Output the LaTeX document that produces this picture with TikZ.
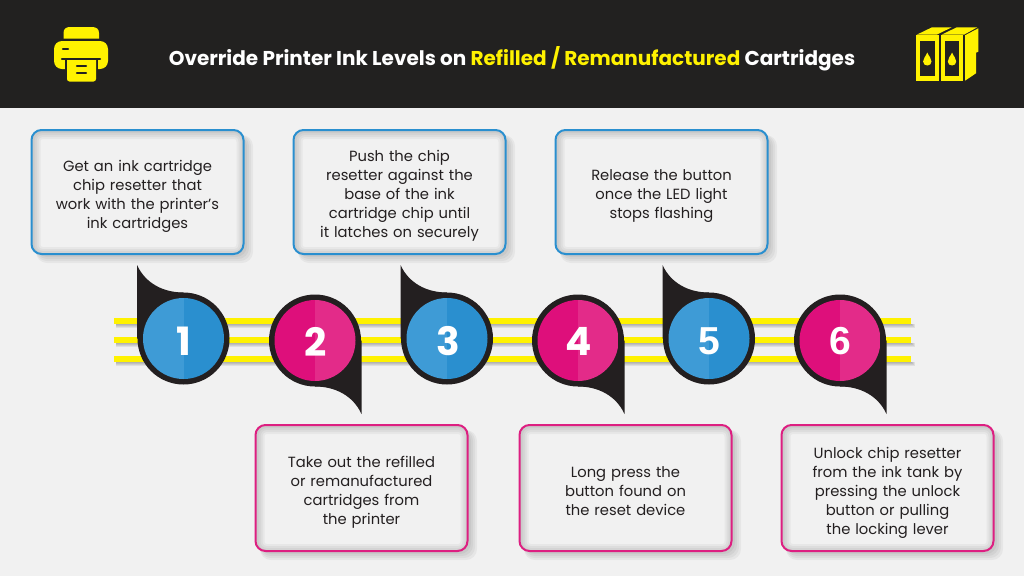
\documentclass[tikz,border=0pt]{standalone}
\usepackage{fontspec}
\setmainfont{Poppins}
\newfontfamily\numalt{Liberation Sans}
\definecolor{ink}{HTML}{231F20}
\definecolor{head}{HTML}{222120}
\definecolor{page}{HTML}{F1F1F1}
\definecolor{ylw}{HTML}{FFF200}
\definecolor{blueB}{HTML}{2A8FCF}
\definecolor{blueL}{HTML}{3E9BD6}
\definecolor{pinkB}{HTML}{DD1F81}
\definecolor{pinkD}{HTML}{DE0F7B}
\definecolor{pinkL}{HTML}{E32B89}
\tikzset{
  x=1pt,y=-1pt,
  boxbase/.style={rounded corners=10pt,line width=2pt,fill=page,minimum width=212pt,minimum height=124pt,
    inner sep=0pt,
    path picture={
      \foreach \w in {16,12,8,4}{
        \draw[black,opacity=0.04,line width=\w pt,rounded corners=10pt]
          ([xshift=1pt,yshift=-1pt]path picture bounding box.north west) rectangle
          ([xshift=1pt,yshift=-1pt]path picture bounding box.south east);
      }
    }},
  bluebox/.style={boxbase,draw=blueB},
  pinkbox/.style={boxbase,draw=pinkB},
  boxtext/.style={align=center,text width=190pt,inner sep=0pt,font=\fontsize{14.75}{19}\selectfont,text=ink},
  stripe/.style={ylw,line width=6pt},
  numtext/.style={text=white,font=\fontsize{39}{39}\bfseries\selectfont,inner sep=0pt},
  ringnode/.style={circle,fill=ink,minimum size=92pt,inner sep=0pt},
}
\newcommand\softshadow[4]{% x0 y0 x1 y1
  \foreach \g in {6,4,2,0}{
    \fill[black,opacity=0.045,rounded corners=11pt] (#1+5,#2+5) rectangle (#3+3+\g,#4+3+\g);
  }
}
\newcommand\stepmark[9]{% name cx cy dir left right num fontcmd numdx
  \node[ringnode] (#1) at (#2,#3) {};
  \ifnum#4=1
    \fill[ink] (#2-46.5,#3-73.5) .. controls (#2-38,#3-55) and (#2-20,#3-46) .. (#2,#3-46)
       -- (#2,#3) -- (#2-46.5,#3) -- cycle;
  \else
    \fill[ink] (#2+46.5,#3+73.5) .. controls (#2+38,#3+55) and (#2+20,#3+46) .. (#2,#3+46)
       -- (#2,#3) -- (#2+46.5,#3) -- cycle;
  \fi
  \begin{scope}
    \clip (#2,#3) circle (40.5);
    \fill[#5] (#2-41,#3-41) rectangle (#2,#3+41);
    \fill[#6] (#2,#3-41) rectangle (#2+41,#3+41);
  \end{scope}
  \node[numtext] (#1num) at (#2+#9,341.5) {#8#7};
}
\newcommand\dropshape[2]{%
  \fill[ylw] (#1,#2-7) .. controls (#1+1.5,#2-3) and (#1+4.2,#2-1.5) .. (#1+4.2,#2+2)
    .. controls (#1+4.2,#2+4.6) and (#1+2.2,#2+6) .. (#1,#2+6)
    .. controls (#1-2.2,#2+6) and (#1-4.2,#2+4.6) .. (#1-4.2,#2+2)
    .. controls (#1-4.2,#2-1.5) and (#1-1.5,#2-3) .. (#1,#2-7) -- cycle;
}
\begin{document}
\begin{tikzpicture}
\useasboundingbox (0,0) rectangle (1024,576);
\fill[page] (0,0) rectangle (1024,576);
\fill[head] (0,0) rectangle (1024,108);
\node[text=white,inner sep=0pt,font=\fontsize{20}{24}\bfseries\selectfont] (title) at (512,59)
  {Override Printer Ink Levels on \textcolor{ylw}{Refilled / Remanufactured} Cartridges};

% printer icon
\fill[ylw] (63.5,38.5) -- (63.5,33) .. controls (63.5,29) and (66,27) .. (70,27) -- (92,27)
   .. controls (96.5,27) and (99,29) .. (99,33) -- (99,38.5) -- cycle;
\fill[ylw,rounded corners=8pt] (54,41) rectangle (108,69);
\draw[head,line width=2.2pt,line cap=round] (63,49.3) -- (68,49.3);
\fill[head] (65,60) rectangle (98,70);
\fill[ylw,rounded corners=2.5pt] (67,54) -- (67,81.5) -- (96,81.5) -- (96,54) -- cycle;
\draw[head,line width=2.2pt,line cap=round] (62,59) -- (100,59);
\draw[head,line width=2.2pt,line cap=round] (77,66) -- (86,66);
\draw[head,line width=2.2pt,line cap=round] (77,72.7) -- (86,72.7);

% cartridge icon
\fill[ylw] (916.7,34.7) -- (932,27.3) -- (951.7,27.3) -- (936.7,34.7) -- cycle;
\fill[ylw] (941.7,34.7) -- (956.7,27.3) -- (977.3,27.3) -- (964,34.7) -- cycle;
\fill[ylw] (965,35.3) -- (978.3,28.3) -- (978.3,51.7) -- (976,52.7) -- (976,73.3) -- (965,80.7) -- cycle;
\fill[ylw] (916,35.3) rectangle (938.7,80.7);
\fill[ylw] (940.7,35.3) rectangle (963.3,80.7);
\fill[head] (920,40.7) rectangle (935,76);
\fill[head] (945,40.7) rectangle (959.3,76);
\dropshape{927.3}{59.5}
\dropshape{952}{59.5}

% stripes
\foreach \yy in {321,340,359}{
  \foreach \g in {3.5,2.5,1.5,0.5}{
    \fill[black,opacity=0.07] (116,\yy+3) rectangle (911+\g,\yy+3+\g);
  }
  \draw[stripe] (114,\yy) -- (911,\yy);
}

% boxes
\softshadow{31}{130}{244}{254}
\softshadow{293}{130}{506}{254}
\softshadow{555}{130}{768}{254}
\softshadow{255}{425}{468}{551}
\softshadow{519}{425}{732}{551}
\softshadow{781}{425}{994}{551}
\node[bluebox] (b1) at (137.5,192) {};
\node[bluebox] (b3) at (399.5,192) {};
\node[bluebox] (b5) at (661.5,192) {};
\node[pinkbox,minimum height=126pt] (b2) at (361.5,488) {};
\node[pinkbox,minimum height=126pt] (b4) at (625.5,488) {};
\node[pinkbox,minimum height=126pt] (b6) at (887.5,488) {};
\node[boxtext] (t1) at ([yshift=-4pt]b1.center) {Get an ink cartridge\\chip resetter that\\work with the printer’s\\ink cartridges};
\node[boxtext] (t3) at ([yshift=-4pt]b3.center) {Push the chip\\resetter against the\\base of the ink\\cartridge chip until\\it latches on securely};
\node[boxtext] (t5) at ([yshift=-4pt]b5.center) {Release the button\\once the LED light\\stops flashing};
\node[boxtext] (t2) at ([yshift=-4pt]b2.center) {Take out the refilled\\or remanufactured\\cartridges from\\the printer};
\node[boxtext] (t4) at ([yshift=-3pt]b4.center) {Long press the\\button found on\\the reset device};
\node[boxtext] (t6) at ([yshift=-5pt]b6.center) {Unlock chip resetter\\from the ink tank by\\pressing the unlock\\button or pulling\\the locking lever};

% markers
\stepmark{c1}{183.5}{338.5}{1}{blueL}{blueB}{1}{}{0}
\stepmark{c2}{315}{340.5}{2}{pinkD}{pinkL}{2}{}{0.5}
\stepmark{c3}{447}{338.5}{1}{blueL}{blueB}{3}{}{1.5}
\stepmark{c4}{578}{340.5}{2}{pinkD}{pinkL}{4}{}{0.5}
\stepmark{c5}{709}{338.5}{1}{blueL}{blueB}{5}{\numalt}{0}
\stepmark{c6}{840}{340.5}{2}{pinkD}{pinkL}{6}{\numalt}{0}
\end{tikzpicture}
\end{document}
